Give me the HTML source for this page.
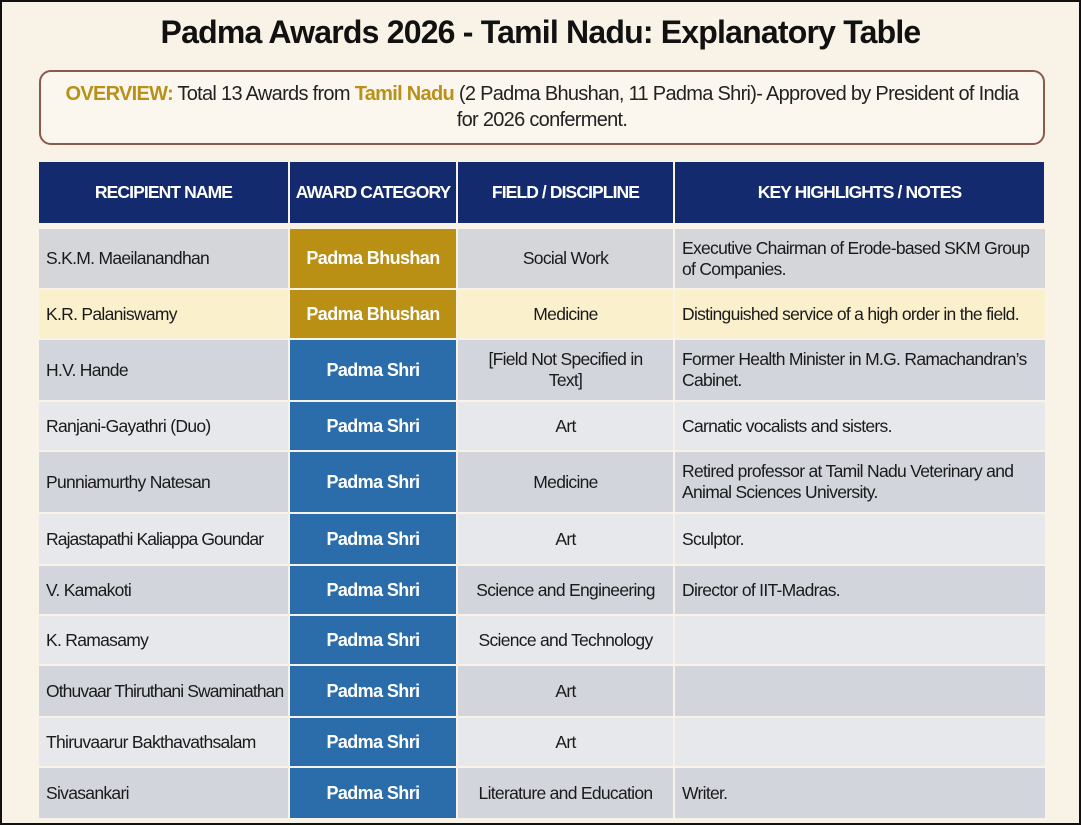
<!DOCTYPE html>
<html><head><meta charset="utf-8"><style>
*{margin:0;padding:0;box-sizing:border-box}
body{width:1081px;height:825px;overflow:hidden;background:#f8f3e6;font-family:"Liberation Sans",sans-serif;position:relative}
.frame{position:absolute;left:0;top:0;width:1081px;height:825px;border:2px solid #111;z-index:5}
h1{position:absolute;left:0;width:1081px;top:14px;text-align:center;font-size:32px;font-weight:bold;letter-spacing:-0.8px;color:#111}
.ov{position:absolute;left:39px;top:70px;width:1006px;height:75px;border:2px solid #8a5a4a;border-radius:12px;background:#fbf7ee;text-align:center;font-size:20px;line-height:26px;padding-top:9px;color:#222;letter-spacing:-0.7px}
.g{color:#b8901a;font-weight:bold}
.c{position:absolute;display:flex;align-items:center;font-size:17.5px;letter-spacing:-0.7px;color:#1a1a1a;line-height:21px;white-space:nowrap;overflow:hidden}
.h{background:#142a6e;color:#fff;font-weight:bold;justify-content:center;font-size:17.5px;letter-spacing:-0.9px}
.ctr{justify-content:center;text-align:center}
.pb{background:#b98f14;color:#fff;font-weight:bold;justify-content:center;font-size:18px;letter-spacing:-0.6px}
.ps{background:#2b6cab;color:#fff;font-weight:bold;justify-content:center;font-size:18px;letter-spacing:-0.6px}
.l{padding-left:7px}
</style></head><body>
<div class="frame"></div>
<h1>Padma Awards 2026 - Tamil Nadu: Explanatory Table</h1>
<div class="ov"><span class="g">OVERVIEW:</span> Total 13 Awards from <span class="g">Tamil Nadu</span> (2 Padma Bhushan, 11 Padma Shri)- Approved by President of India<br>for 2026 conferment.</div>
<div id="t"></div>
<script>
const X=[39,289,457,674,1045];
const rows=[
[229,288,"S.K.M. Maeilanandhan","pb","Padma Bhushan","Social Work","Executive Chairman of Erode-based SKM Group<br>of Companies.","#d5d6da"],
[290,338,"K.R. Palaniswamy","pb","Padma Bhushan","Medicine","Distinguished service of a high order in the field.","#fbf0cc"],
[340,400,"H.V. Hande","ps","Padma Shri","[Field Not Specified in<br>Text]","Former Health Minister in M.G. Ramachandran’s<br>Cabinet.","#d3d5dd"],
[402,450,"Ranjani-Gayathri (Duo)","ps","Padma Shri","Art","Carnatic vocalists and sisters.","#e7e8eb"],
[452,512,"Punniamurthy Natesan","ps","Padma Shri","Medicine","Retired professor at Tamil Nadu Veterinary and<br>Animal Sciences University.","#d3d5dd"],
[514,564,"Rajastapathi Kaliappa Goundar","ps","Padma Shri","Art","Sculptor.","#e7e8eb"],
[566,614,"V. Kamakoti","ps","Padma Shri","Science and Engineering","Director of IIT-Madras.","#d3d5dd"],
[616,664,"K. Ramasamy","ps","Padma Shri","Science and Technology","","#e7e8eb"],
[666,716,"Othuvaar Thiruthani Swaminathan","ps","Padma Shri","Art","","#d3d5dd"],
[718,766,"Thiruvaarur Bakthavathsalam","ps","Padma Shri","Art","","#e7e8eb"],
[768,818,"Sivasankari","ps","Padma Shri","Literature and Education","Writer.","#d3d5dd"]];
let s="";
const cell=(x0,x1,y0,y1,cls,txt,bg,st)=>`<div class="c ${cls}" style="left:${x0}px;width:${x1-x0}px;top:${y0}px;height:${y1-y0}px;${bg?'background:'+bg+';':''}${st||''}">${txt}</div>`;
const hd=["RECIPIENT NAME","AWARD CATEGORY","FIELD / DISCIPLINE","KEY HIGHLIGHTS / NOTES"];
for(let i=0;i<4;i++)s+=cell(X[i]+(i?1:0),X[i+1]-1,162,223,"h",hd[i]);
for(const r of rows){
 s+=cell(X[0],X[1]-1,r[0],r[1],"l",r[2],r[7],r[2].length>28?"letter-spacing:-0.9px;":"");
 s+=cell(X[1]+1,X[2]-1,r[0],r[1],r[3],r[4]);
 s+=cell(X[2]+1,X[3]-1,r[0],r[1],"ctr",r[5],r[7]);
 s+=cell(X[3]+1,X[4],r[0],r[1],"l",r[6],r[7]);
}
document.getElementById("t").innerHTML=s;
</script>
</body></html>
